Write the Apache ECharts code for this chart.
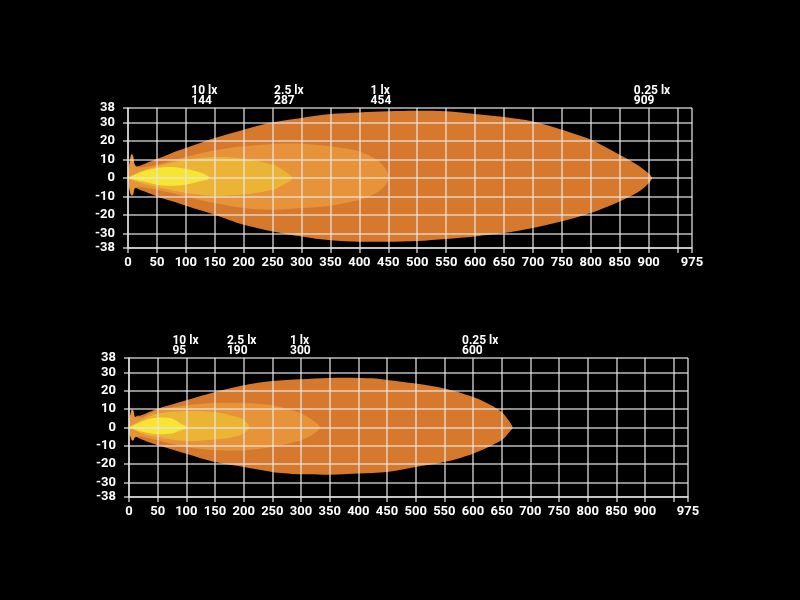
<!DOCTYPE html>
<html>
<head>
<meta charset="utf-8">
<script src="https://cdn.jsdelivr.net/npm/echarts@6/dist/echarts.min.js"></script>
<style>html,body{margin:0;padding:0;background:#000;}#c{width:800px;height:600px;}</style>
</head>
<body>
<div id="c"></div>
<script>
// ---- data ----
const xTicks = [0,50,100,150,200,250,300,350,400,450,500,550,600,650,700,750,800,850,900,950,975];
const xTickLabels = [0,50,100,150,200,250,300,350,400,450,500,550,600,650,700,750,800,850,900,975];
const yTicks = [-38,-30,-20,-10,0,10,20,30,38];
const luxNames = ['10 lx','2.5 lx','1 lx','0.25 lx'];
const topDistances = [144,287,454,909];
const bottomDistances = [95,190,300,600];

// top chart contours [distance, width]
const top025 = [[0,0],[5,3],[12,6],[20,6.5],[35,8.5],[50,10.3],[75,13.5],[100,16.3],[150,21.7],[200,26.2],[250,30.2],[300,32.6],[350,34.7],[400,35.6],[450,36.2],[500,36.5],[550,36.2],[600,34.7],[650,33.1],[700,30.7],[750,26.2],[800,20.8],[850,12.6],[880,7.2],[898,3],[906,0],[898,-3.5],[880,-8],[850,-12.7],[800,-19],[750,-23.5],[700,-27.1],[650,-29.9],[600,-31.7],[550,-33.1],[500,-34.2],[450,-34.6],[400,-34.6],[350,-33.8],[300,-31.7],[250,-29],[200,-25.4],[150,-19.9],[100,-15],[75,-12.5],[50,-10],[30,-7.5],[15,-5.5],[5,-3]];
const top1 = [[0,-2],[0,3],[3,9],[6,13],[9,12],[11,8],[15,6],[25,5.8],[50,7.2],[100,11.4],[150,15],[200,17.2],[250,18.5],[300,18.6],[350,17.2],[400,14.4],[430,9.9],[445,5],[451,0],[445,-4],[430,-8],[400,-11.8],[350,-15],[300,-16.3],[250,-17.2],[200,-16.3],[150,-13.6],[100,-10],[50,-6.4],[25,-5],[15,-5],[11,-6],[9,-9],[6,-9.5],[3,-7]];
const top25 = [[0,0],[10,2],[25,4],[50,6.3],[100,9.9],[150,11.4],[200,10.5],[250,7.2],[270,4],[284,0],[270,-3.5],[250,-6.4],[200,-9],[150,-9.6],[100,-8.1],[50,-4.9],[25,-3],[10,-1.5]];
const top10 = [[0,0],[10,1.5],[25,3.5],[50,5.4],[75,6],[100,5],[125,3],[136,1.5],[141,0],[136,-1],[125,-1.8],[100,-3.6],[75,-4.2],[50,-3.6],[25,-1.8],[10,-0.8]];

// bottom chart contours
const bot025 = [[0,0],[5,3],[12,6],[20,6.5],[35,8.5],[50,10.3],[100,14.9],[150,19.4],[200,23.1],[250,25.4],[300,26.4],[350,27.1],[400,27.1],[430,26.8],[450,26],[500,24],[550,21.3],[600,16.7],[630,12.5],[650,8.5],[662,4],[669,0],[662,-3],[650,-7],[600,-14.3],[550,-18.9],[500,-21.6],[450,-24.3],[400,-25.2],[350,-25.8],[300,-25.6],[270,-25],[250,-24.3],[200,-21.6],[150,-18.9],[100,-14.3],[50,-9.7],[30,-7.5],[15,-5.5],[5,-3]];
const bot1 = [[0,-2],[0,3],[3,8],[5,10],[8,9],[10,6],[15,5.5],[25,5.8],[50,9.4],[100,12.1],[150,13.4],[200,13.4],[250,12.1],[300,7.6],[320,4],[333,0],[320,-4],[300,-7],[250,-10.7],[200,-12.5],[150,-12.5],[100,-10.7],[50,-7],[25,-5],[15,-5],[10,-5.5],[8,-7],[5,-7],[3,-5.5]];
const bot25 = [[0,0],[10,2],[25,4.5],[50,7.6],[100,9],[150,8.5],[185,6],[200,4.3],[210,0],[200,-3.3],[185,-5],[150,-6.6],[100,-7.4],[50,-5.2],[25,-3.5],[10,-1.5]];
const bot10 = [[0,0],[10,1.5],[25,3.6],[50,5.4],[75,4.9],[90,2.1],[104,0],[90,-1.5],[75,-3.3],[50,-3.7],[25,-2.5],[10,-1]];

// ---- styles ----
const colors = {c025:'#D7792D', c1:'#E69339', c25:'#ECB434', c10:'#F7E534'};
const gridColor = 'rgba(230,230,230,0.82)';
const font = 'Roboto';

function polySeries(pts, color, gi){
  return {
    type:'custom', xAxisIndex:gi, yAxisIndex:gi, z:1,
    data: pts,
    silent:true,
    renderItem: function(params, api){
      if (params.dataIndex !== 0) return null;
      return {
        type:'polygon',
        shape:{points: pts.map(p => api.coord(p)), smooth:0.3},
        style:{fill: color, stroke: null}
      };
    }
  };
}
function labelSeries(dists, gi, dx){
  return {
    type:'scatter', xAxisIndex:gi, yAxisIndex:gi, z:6, symbolSize:0, silent:true,
    itemStyle:{opacity:1},
    data: dists.map((d,i) => ({name: luxNames[i], value:[d, 38]})),
    label:{show:true, position:[dx,-2], align:'left', verticalAlign:'bottom',
      color:'#fff', opacity:1, fontFamily:font, fontSize:12, fontWeight:'bold', lineHeight:10,
      formatter: p => p.name + '\n' + p.value[0]}
  };
}
function xAxis(gi){
  return {
    type:'value', gridIndex:gi, min:0, max:975, z:4,
    axisLine:{show:true, onZero:false, lineStyle:{color:gridColor, width:1.5}},
    axisTick:{show:true, length:5, customValues:xTicks, lineStyle:{color:gridColor, width:1.5}},
    axisLabel:{customValues:xTickLabels, color:'#fff', fontFamily:font, fontSize:13, fontWeight:'bold', margin:8},
    splitLine:{show:true, lineStyle:{color:gridColor, width:1.5}}
  };
}
function yAxis(gi){
  return {
    type:'value', gridIndex:gi, min:-38, max:38, z:4,
    axisLine:{show:true, onZero:false, lineStyle:{color:gridColor, width:1.5}},
    axisTick:{show:true, length:5, customValues:yTicks, lineStyle:{color:gridColor, width:1.5}},
    axisLabel:{customValues:yTicks, color:'#fff', fontFamily:font, fontSize:13, fontWeight:'bold', margin:13},
    splitLine:{show:true, lineStyle:{color:gridColor, width:1.5}}
  };
}

const chart = echarts.init(document.getElementById('c'));
chart.setOption({
  backgroundColor:'#000',
  animation:false,
  grid:[
    {left:128, right:108, top:108, height:140},
    {left:129, right:112, top:358, height:139}
  ],
  xAxis:[xAxis(0), xAxis(1)],
  yAxis:[yAxis(0), yAxis(1)],
  series:[
    polySeries(top025, colors.c025, 0),
    polySeries(top1, colors.c1, 0),
    polySeries(top25, colors.c25, 0),
    polySeries(top10, colors.c10, 0),
    polySeries(bot025, colors.c025, 1),
    polySeries(bot1, colors.c1, 1),
    polySeries(bot25, colors.c25, 1),
    polySeries(bot10, colors.c10, 1),
    labelSeries(topDistances, 0, -20),
    labelSeries(bottomDistances, 1, -11)
  ]
});
</script>
</body>
</html>
